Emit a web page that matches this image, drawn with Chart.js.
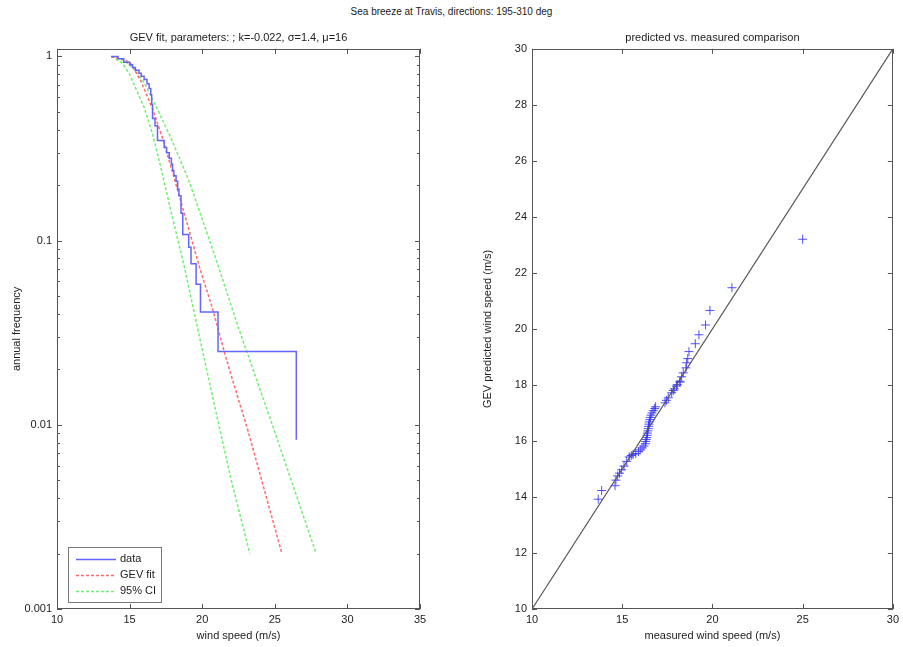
<!DOCTYPE html>
<html>
<head>
<meta charset="utf-8">
<title>Sea breeze at Travis</title>
<script src="https://cdn.jsdelivr.net/npm/chart.js@4.4.1/dist/chart.umd.min.js"></script>
<style>
  body { margin: 0; background: #fff; }
  #wrap { position: relative; width: 903px; height: 647px; font-family: "Liberation Sans", Arial, sans-serif; }
  #suptitle { position: absolute; left: 0; top: 6px; width: 903px; text-align: center; font-size: 10px; color: #222; }
  #left { position: absolute; left: 0; top: 0; }
  #right { position: absolute; left: 451px; top: 0; }
</style>
</head>
<body>
<div id="wrap">
  <div id="suptitle">Sea breeze at Travis, directions: 195-310 deg</div>
  <canvas id="left" width="451" height="647"></canvas>
  <canvas id="right" width="452" height="647"></canvas>
</div>
<script>
// left panel: empirical annual frequency (stairs)
var dataSpeed = [13.73, 14.2, 14.6, 15.0, 15.2, 15.4, 15.65, 15.8, 16.0, 16.2, 16.34, 16.46, 16.52, 16.58, 16.75, 16.92, 17.38, 17.55, 17.73, 17.88, 17.96, 18.05, 18.2, 18.31, 18.4, 18.54, 18.66, 19.07, 19.23, 19.58, 19.88, 21.09, 26.48];
var dataFreq = [1.0, 0.97, 0.93, 0.90, 0.87, 0.84, 0.81, 0.78, 0.75, 0.71, 0.67, 0.62, 0.55, 0.46, 0.42, 0.35, 0.32, 0.30, 0.28, 0.26, 0.24, 0.225, 0.21, 0.19, 0.175, 0.141, 0.108, 0.092, 0.075, 0.058, 0.041, 0.025, 0.0083];

// GEV fit
var gevSpeed = [13.73, 14.5, 15.07, 15.76, 16.58, 17.27, 17.96, 18.77, 19.81, 20.74, 21.55, 22.0, 23.17, 25.49];
var gevFreq = [0.995, 0.97, 0.92, 0.74, 0.52, 0.36, 0.235, 0.14, 0.072, 0.042, 0.0245, 0.0185, 0.0092, 0.002];

// 95% confidence bounds
var ciLowSpeed = [13.75, 14.5, 15.0, 15.5, 16.0, 16.58, 17.15, 17.8, 18.77, 19.7, 20.86, 22.0, 23.28];
var ciLowFreq = [1.0, 0.92, 0.8, 0.65, 0.53, 0.38, 0.25, 0.15, 0.072, 0.033, 0.0126, 0.005, 0.002];
var ciHighSpeed = [13.75, 14.6, 15.3, 16.0, 16.46, 17.0, 17.85, 19.0, 19.81, 21.05, 22.48, 24.95, 27.85];
var ciHighFreq = [1.0, 0.95, 0.86, 0.72, 0.61, 0.5, 0.36, 0.22, 0.145, 0.075, 0.034, 0.0094, 0.002];

var leftXTicks = [10, 15, 20, 25, 30, 35];
var leftYTicks = [0.001, 0.01, 0.1, 1];
var leftYLabels = ['0.001', '0.01', '0.1', '1'];

// right panel: predicted vs measured
var measured = [13.67, 13.86, 14.6, 14.65, 14.75, 14.85, 14.97, 15.1, 15.25, 15.39, 15.5, 15.6, 15.75, 15.9, 16.0, 16.1, 16.2, 16.28, 16.3, 16.33, 16.36, 16.38, 16.4, 16.42, 16.44, 16.46, 16.48, 16.5, 16.53, 16.56, 16.6, 16.65, 16.72, 16.8, 16.85, 17.37, 17.45, 17.55, 17.74, 17.83, 17.88, 18.01, 18.05, 18.2, 18.2, 18.29, 18.38, 18.53, 18.57, 18.63, 18.7, 19.05, 19.25, 19.62, 19.86, 21.08, 25.0];
var predicted = [13.92, 14.23, 14.4, 14.6, 14.75, 14.85, 14.97, 15.1, 15.27, 15.43, 15.48, 15.52, 15.55, 15.62, 15.68, 15.75, 15.82, 15.9, 15.98, 16.05, 16.12, 16.2, 16.28, 16.36, 16.44, 16.52, 16.6, 16.68, 16.76, 16.84, 16.92, 17.0, 17.08, 17.16, 17.22, 17.36, 17.45, 17.54, 17.72, 17.8, 17.86, 17.96, 18.01, 18.1, 18.13, 18.29, 18.43, 18.61, 18.79, 18.94, 19.19, 19.47, 19.79, 20.14, 20.66, 21.47, 23.2];
var diagLine = [10, 30];
var rightXTicks = [10, 15, 20, 25, 30];
var rightYTicks = [10, 12, 14, 16, 18, 20, 22, 24, 26, 28, 30];

Chart.defaults.font.family = '"Liberation Sans", Arial, sans-serif';
Chart.defaults.font.size = 11;
Chart.defaults.color = '#222';

function pts(xs, ys) {
    return xs.map(function (x, i) { return { x: x, y: ys[i] }; });
}

function fixedTicks(values) {
    return function (scale) {
        scale.ticks = values.map(function (v) { return { value: v }; });
    };
}

// matlab style box with inward ticks
var frameBox = {
    id: 'frameBox',
    afterDatasetsDraw: function (chart, args, opts) {
        var ctx = chart.ctx, a = chart.chartArea;
        var sx = chart.scales.x, sy = chart.scales.y;
        ctx.save();
        ctx.strokeStyle = '#555';
        ctx.lineWidth = 1;
        ctx.beginPath();
        sx.ticks.forEach(function (t) {
            var px = Math.round(sx.getPixelForValue(t.value)) + 0.5;
            ctx.moveTo(px, a.bottom); ctx.lineTo(px, a.bottom - 5);
            ctx.moveTo(px, a.top); ctx.lineTo(px, a.top + 5);
        });
        sy.ticks.forEach(function (t) {
            var py = Math.round(sy.getPixelForValue(t.value)) + 0.5;
            ctx.moveTo(a.left, py); ctx.lineTo(a.left + 5, py);
            ctx.moveTo(a.right, py); ctx.lineTo(a.right - 5, py);
        });
        if (opts.minorLog) {
            for (var d = -3; d < 0; d++) {
                for (var m = 2; m < 10; m++) {
                    var py = Math.round(sy.getPixelForValue(m * Math.pow(10, d))) + 0.5;
                    ctx.moveTo(a.left, py); ctx.lineTo(a.left + 3, py);
                    ctx.moveTo(a.right, py); ctx.lineTo(a.right - 3, py);
                }
            }
        }
        ctx.stroke();
        ctx.strokeRect(Math.round(a.left) + 0.5, Math.round(a.top) + 0.5, Math.round(a.width) - 1, Math.round(a.height) - 1);
        ctx.restore();
    }
};

// legend box in the lower left corner of the axes
var boxLegend = {
    id: 'boxLegend',
    afterDraw: function (chart, args, opts) {
        if (!opts.count) return;
        var ctx = chart.ctx, a = chart.chartArea;
        var x0 = a.left + 11, y0 = a.bottom - 62, w = 93, h = 55;
        ctx.save();
        ctx.fillStyle = '#fff';
        ctx.fillRect(x0, y0, w, h);
        ctx.strokeStyle = '#777';
        ctx.lineWidth = 1;
        ctx.strokeRect(x0 + 0.5, y0 + 0.5, w, h);
        ctx.font = '11px "Liberation Sans", Arial, sans-serif';
        ctx.textBaseline = 'middle';
        chart.data.datasets.slice(0, opts.count).forEach(function (ds, i) {
            var yy = y0 + 12 + i * 16;
            ctx.strokeStyle = ds.borderColor;
            ctx.lineWidth = ds.borderWidth;
            ctx.setLineDash(ds.borderDash || []);
            ctx.beginPath();
            ctx.moveTo(x0 + 8, yy + 0.5);
            ctx.lineTo(x0 + 48, yy + 0.5);
            ctx.stroke();
            ctx.fillStyle = '#222';
            ctx.fillText(ds.label, x0 + 52, yy);
        });
        ctx.restore();
    }
};

new Chart(document.getElementById('left'), {
    type: 'line',
    data: {
        datasets: [{
            label: 'data',
            data: pts(dataSpeed, dataFreq),
            borderColor: '#6464ff',
            borderWidth: 1.5,
            stepped: 'before',
            pointRadius: 0
        }, {
            label: 'GEV fit',
            data: pts(gevSpeed, gevFreq),
            borderColor: '#ff6a6a',
            borderWidth: 1.5,
            borderDash: [3, 2],
            pointRadius: 0
        }, {
            label: '95% CI',
            data: pts(ciLowSpeed, ciLowFreq),
            borderColor: '#70f070',
            borderWidth: 1.5,
            borderDash: [3, 2],
            pointRadius: 0
        }, {
            label: '95% CI upper',
            data: pts(ciHighSpeed, ciHighFreq),
            borderColor: '#70f070',
            borderWidth: 1.5,
            borderDash: [3, 2],
            pointRadius: 0
        }]
    },
    options: {
        responsive: false,
        animation: false,
        layout: { padding: { left: 0, right: 31, top: 0, bottom: 0 } },
        scales: {
            x: {
                type: 'linear', min: 10, max: 35,
                afterBuildTicks: fixedTicks(leftXTicks),
                afterFit: function (s) { s.height = 38; },
                grid: { display: false, drawTicks: false },
                border: { display: false },
                ticks: { padding: 4, autoSkip: false, maxRotation: 0 },
                title: { display: true, text: 'wind speed (m/s)', padding: { top: 0, bottom: 4.4 } }
            },
            y: {
                type: 'logarithmic', min: 0.001, max: 1.1,
                afterBuildTicks: fixedTicks(leftYTicks),
                afterFit: function (s) { s.width = 57; },
                grid: { display: false, drawTicks: false },
                border: { display: false },
                ticks: {
                    padding: 5, autoSkip: false,
                    callback: function (v) { return leftYLabels[leftYTicks.indexOf(v)]; }
                },
                title: { display: true, text: 'annual frequency', padding: { top: 10.4, bottom: 0 } }
            }
        },
        plugins: {
            legend: { display: false },
            tooltip: { enabled: false },
            title: {
                display: true, fullSize: false,
                text: 'GEV fit, parameters: ; k=-0.022, \u03c3=1.4, \u03bc=16',
                font: { size: 11, weight: 'normal' },
                padding: { top: 31, bottom: 4.6 }
            },
            frameBox: { minorLog: true },
            boxLegend: { count: 3 }
        }
    },
    plugins: [frameBox, boxLegend]
});

new Chart(document.getElementById('right'), {
    type: 'scatter',
    data: {
        datasets: [{
            type: 'line',
            label: 'y = x',
            data: pts(diagLine, diagLine),
            borderColor: '#555',
            borderWidth: 1.2,
            pointRadius: 0
        }, {
            label: 'predicted',
            data: pts(measured, predicted),
            pointStyle: 'cross',
            pointRadius: 4.5,
            borderColor: 'rgba(50,50,255,0.85)',
            backgroundColor: 'rgba(50,50,255,0.85)',
            pointBorderWidth: 1
        }]
    },
    options: {
        responsive: false,
        animation: false,
        layout: { padding: { left: 0, right: 10, top: 0, bottom: 0 } },
        scales: {
            x: {
                type: 'linear', min: 10, max: 30,
                afterBuildTicks: fixedTicks(rightXTicks),
                afterFit: function (s) { s.height = 38; },
                grid: { display: false, drawTicks: false },
                border: { display: false },
                ticks: { padding: 4, autoSkip: false, maxRotation: 0 },
                title: { display: true, text: 'measured wind speed (m/s)', padding: { top: 0, bottom: 4.4 } }
            },
            y: {
                type: 'linear', min: 10, max: 30,
                afterBuildTicks: fixedTicks(rightYTicks),
                afterFit: function (s) { s.width = 81; },
                grid: { display: false, drawTicks: false },
                border: { display: false },
                ticks: { padding: 5, autoSkip: false },
                title: { display: true, text: 'GEV predicted wind speed (m/s)', padding: { top: 30.4, bottom: 0 } }
            }
        },
        plugins: {
            legend: { display: false },
            tooltip: { enabled: false },
            title: {
                display: true, fullSize: false,
                text: 'predicted vs. measured comparison',
                font: { size: 11, weight: 'normal' },
                padding: { top: 31, bottom: 4.6 }
            },
            frameBox: { minorLog: false }
        }
    },
    plugins: [frameBox]
});
</script>
</body>
</html>
